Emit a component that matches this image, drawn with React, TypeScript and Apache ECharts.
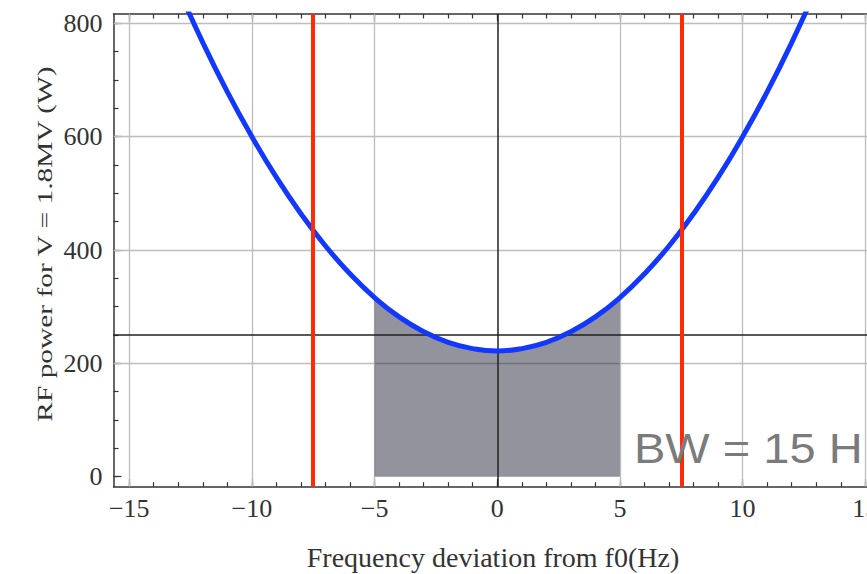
import React, { useEffect, useRef } from "react";
import * as echarts from "echarts";

// ---- data ----
const freqDeviation = [-13, -12, -11, -10, -9, -8, -7, -6, -5, -4, -3, -2, -1, 0, 1, 2, 3, 4, 5, 6, 7, 8, 9, 10, 11, 12, 13];
const rfPower = [861, 766, 679, 600, 528, 464, 407, 358, 316, 282, 256, 237, 226, 222, 226, 237, 256, 282, 316, 358, 407, 464, 528, 600, 679, 766, 861];
const bandEdges = [-5, 5];
const cutoffFreqs = [-7.5, 7.5];
const referencePower = [250];
const centerFreq = [0];
const xGridLines = [-15, -10, -5, 5, 10, 15];
const yGridLines = [200, 400, 600, 800];
const xMajorTicks = [-15, -10, -5, 0, 5, 10, 15];
const xMinorTicks = [-15, -14, -13, -12, -11, -10, -9, -8, -7, -6, -5, -4, -3, -2, -1, 0, 1, 2, 3, 4, 5, 6, 7, 8, 9, 10, 11, 12, 13, 14, 15];
const yMajorTicks = [0, 200, 400, 600, 800];
const yMinorTicks = [0, 50, 100, 150, 200, 250, 300, 350, 400, 450, 500, 550, 600, 650, 700, 750, 800];
const xRange = [-15.64, 15.64];
const yRange = [-17.6, 816.4];
const xTitle = "Frequency deviation from f0(Hz)";
const yTitle = "RF power for V = 1.8MV (W)";
const bwLabel = "BW = 15 H";

const curveData = freqDeviation.map((x, i) => [x, rfPower[i]]);
const bandData = curveData.filter((p) => p[0] >= bandEdges[0] && p[0] <= bandEdges[1]);

const SERIF = '"Liberation Serif", "Times New Roman", serif';
const frameColor = "#333";

const fmt = (v: number) => (v < 0 ? "\u2212" + String(-v) : String(v));

function xAxisDef(position: "bottom" | "top", ticks: number[], len: number, labels: boolean, line: boolean) {
  return {
    type: "value",
    position,
    min: xRange[0],
    max: xRange[1],
    axisLine: { show: line, onZero: false, lineStyle: { color: frameColor, width: 1.5 } },
    axisTick: { show: true, inside: true, length: len, customValues: ticks, lineStyle: { color: frameColor, width: 1.2 } },
    axisLabel: labels
      ? { show: true, customValues: xMajorTicks, formatter: fmt, fontFamily: SERIF, fontSize: 26, color: "#333", margin: 9 }
      : { show: false },
    splitLine: { show: false },
  };
}

function yAxisDef(ticks: number[], len: number, labels: boolean, line: boolean) {
  return {
    type: "value",
    position: "left",
    min: yRange[0],
    max: yRange[1],
    axisLine: { show: line, onZero: false, lineStyle: { color: frameColor, width: 1.5 } },
    axisTick: { show: true, inside: true, length: len, customValues: ticks, lineStyle: { color: frameColor, width: 1.2 } },
    axisLabel: labels
      ? { show: true, customValues: yMajorTicks, formatter: fmt, fontFamily: SERIF, fontSize: 26, color: "#333", margin: 11 }
      : { show: false },
    splitLine: { show: false },
  };
}

const vLines = (vals: number[]) => vals.map((v) => ({ xAxis: v }));
const hLines = (vals: number[]) => vals.map((v) => ({ yAxis: v }));

const markBase = { silent: true, symbol: ["none", "none"], label: { show: false }, emphasis: { disabled: true }, animation: false };

const option: any = {
  animation: false,
  backgroundColor: "#fff",
  grid: { left: 113.5, right: 19, top: 14, bottom: 87.3, containLabel: false, outerBoundsMode: "none" },
  xAxis: [
    xAxisDef("bottom", xMinorTicks, 4.5, false, true),
    xAxisDef("bottom", xMajorTicks, 7.5, true, false),
    xAxisDef("top", xMinorTicks, 4.5, false, true),
    xAxisDef("top", xMajorTicks, 7.5, false, false),
  ],
  yAxis: [yAxisDef(yMinorTicks, 5, false, true), yAxisDef(yMajorTicks, 8, true, false)],
  series: [
    {
      name: "band",
      type: "line",
      data: bandData,
      smooth: true,
      showSymbol: false,
      z: 2,
      lineStyle: { width: 0, opacity: 0 },
      areaStyle: { color: "rgba(40,40,62,0.5)", opacity: 1, origin: "auto" },
      silent: true,
      markLine: {
        ...markBase,
        z: 1,
        lineStyle: { color: "#bdbdbd", width: 1.3, type: "solid" },
        data: [...vLines(xGridLines), ...hLines(yGridLines)],
      },
    },
    {
      name: "axes",
      type: "line",
      data: [],
      z: 3,
      markLine: {
        ...markBase,
        z: 3,
        lineStyle: { color: "#222", width: 1.5, type: "solid" },
        data: [...vLines(centerFreq), ...hLines(referencePower)],
      },
    },
    {
      name: "power",
      type: "line",
      data: curveData,
      smooth: true,
      showSymbol: false,
      clip: true,
      z: 4,
      lineStyle: { color: "#1238ff", width: 5 },
      silent: true,
    },
    {
      name: "cutoff",
      type: "line",
      data: [],
      z: 5,
      markLine: {
        ...markBase,
        z: 5,
        lineStyle: { color: "#ff2a0a", width: 4, type: "solid" },
        data: vLines(cutoffFreqs),
      },
    },
  ],
  graphic: [
    {
      type: "text",
      x: 493,
      y: 557,
      silent: true,
      style: { text: xTitle, fontFamily: SERIF, fontSize: 28, fill: "#333", align: "center", verticalAlign: "middle" },
    },
    {
      type: "text",
      x: 45,
      y: 244,
      rotation: Math.PI / 2,
      scaleX: 1.4,
      silent: true,
      style: { text: yTitle, fontFamily: SERIF, fontSize: 21, fill: "#333", align: "center", verticalAlign: "middle" },
    },
    {
      type: "text",
      x: 634,
      y: 448.5,
      scaleX: 1.12,
      silent: true,
      z: 10,
      style: {
        text: bwLabel,
        fontFamily: '"Liberation Sans", Arial, sans-serif',
        fontSize: 42,
        fill: "#7b7b7b",
        align: "left",
        verticalAlign: "middle",
      },
    },
  ],
};

export default function App() {
  const ref = useRef<HTMLDivElement>(null);
  useEffect(() => {
    if (!ref.current) return;
    const chart = echarts.init(ref.current, null, { renderer: "svg" });
    chart.setOption(option);
    return () => chart.dispose();
  }, []);
  return (
    <div style={{ position: "fixed", left: 0, top: 0, width: 867, height: 574, overflow: "hidden", background: "#fff" }}>
      <div ref={ref} style={{ width: 900, height: 574 }} />
    </div>
  );
}
